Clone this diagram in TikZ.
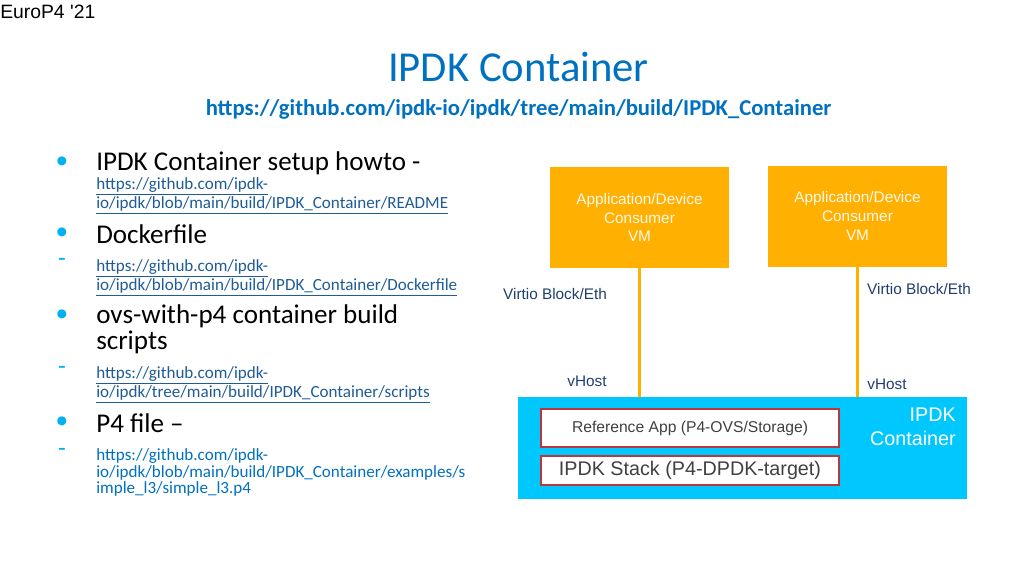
\documentclass[tikz,border=0pt]{standalone}
\usepackage{fontspec}
\setmainfont{Carlito}
\newfontfamily\arialfont{Liberation Sans}
\usetikzlibrary{positioning}

\definecolor{titleblue}{HTML}{0070C0}
\definecolor{linkblue}{HTML}{1F5B96}
\definecolor{bulletcyan}{HTML}{00B0F0}
\definecolor{vmorange}{HTML}{FFB000}
\definecolor{boxcyan}{HTML}{00C8FF}
\definecolor{boxred}{HTML}{B8383C}
\definecolor{labelblue}{HTML}{1F3F6E}
\definecolor{reftext}{HTML}{404040}

\begin{document}
\begin{tikzpicture}[x=0.75pt,y=-0.75pt,
    txt/.style={inner sep=0pt, anchor=west, align=left},
    bigtext/.style={txt, font=\fontsize{20.3}{19.5}\selectfont},
    linktext/.style={txt, text=linkblue, font=\fontsize{12.8}{12.2}\selectfont},
    mark dot/.style={inner sep=0pt, text=bulletcyan, font=\fontsize{19}{19}\selectfont},
    vmbox/.style={fill=vmorange, minimum width=134.25pt, minimum height=75.75pt,
      inner sep=0pt, align=center, text=white!92!vmorange,
      font=\arialfont\fontsize{11.5}{14}\selectfont},
    stackbox/.style={draw=boxred, line width=2pt, fill=white, minimum width=223.5pt,
      inner sep=0pt, text=reftext},
    diaglabel/.style={inner sep=0pt, text=labelblue, font=\arialfont\fontsize{11.5}{14}\selectfont},
    vlink/.style={draw=vmorange, line width=2.2pt}]
  \useasboundingbox (0,0) rectangle (1024,576);

  % Header
  \node[txt, font=\arialfont\fontsize{14.5}{16}\selectfont] (event) at (0,12) {EuroP4 '21};
  \node[inner sep=0pt, text=titleblue, font=\fontsize{32}{34}\selectfont] (title) at (518.5,67) {IPDK Container};
  \node[inner sep=0pt, text=titleblue, font=\bfseries\fontsize{17}{19}\selectfont] (url) at (518.5,109)
    {https://github.com/ipdk-io/ipdk/tree/main/build/IPDK\_Container};

  % Bullet list
  \node[mark dot] (b1) at (62,163) {•};
  \node[bigtext] (setup) at (96,163) {IPDK Container setup howto -};
  \node[linktext] (link1) at (96,196) {\underline{https://github.com/ipdk-}\\\underline{io/ipdk/blob/main/build/IPDK\_Container/README}};

  \node[mark dot] (b2) at (62,234) {•};
  \node[bigtext] (docker) at (96,234) {Dockerfile};
  \node[mark dot] (d2) at (62,262) {-};
  \node[linktext] (link2) at (96,278) {\underline{https://github.com/ipdk-}\\\underline{io/ipdk/blob/main/build/IPDK\_Container/Dockerfile}};

  \node[mark dot] (b3) at (62,316) {•};
  \node[bigtext] (ovs) at (96,329) {ovs-with-p4 container build\\scripts};
  \node[mark dot] (d3) at (62,370) {-};
  \node[linktext] (link3) at (96,385) {\underline{https://github.com/ipdk-}\\\underline{io/ipdk/tree/main/build/IPDK\_Container/scripts}};

  \node[mark dot] (b4) at (62,423) {•};
  \node[bigtext] (pfour) at (96,423) {P4 file –};
  \node[mark dot] (d4) at (62,452) {-};
  \node[linktext, text=titleblue] (link4) at (96,472.5) {https://github.com/ipdk-\\io/ipdk/blob/main/build/IPDK\_Container/examples/s\\imple\_l3/simple\_l3.p4};

  % VMs
  \node[vmbox] (vmA) at (639.5,217.5) {Application/Device\\Consumer\\VM};
  \node[vmbox] (vmB) at (857.5,216) {Application/Device\\Consumer\\VM};

  % Container
  \node[fill=boxcyan, minimum width=336.75pt, minimum height=76.5pt, inner sep=0pt] (ctr) at (742.5,448) {};
  \node[inner sep=0pt, anchor=east, align=right, text=white,
    font=\arialfont\fontsize{14.8}{18}\selectfont] (ctrname) at (956,427) {IPDK\\Container};
  \node[stackbox, minimum height=28.5pt, font=\arialfont\fontsize{11.75}{13}\selectfont] (refapp) at (690,428)
    {Reference App (P4-OVS/Storage)};
  \node[stackbox, minimum height=21.75pt, font=\arialfont\fontsize{14.8}{17}\selectfont] (stack) at (690,470.5)
    {IPDK Stack (P4-DPDK-target)};

  % Virtio links
  \draw[vlink] (vmA.south) -- (vmA.south |- ctr.north);
  \draw[vlink] (vmB.south) -- (vmB.south |- ctr.north);
  \node[diaglabel] (virtA) at (555,294) {Virtio Block/Eth};
  \node[diaglabel] (virtB) at (919,289) {Virtio Block/Eth};
  \node[diaglabel] (hostA) at (587,381) {vHost};
  \node[diaglabel] (hostB) at (887,384) {vHost};
\end{tikzpicture}
\end{document}
